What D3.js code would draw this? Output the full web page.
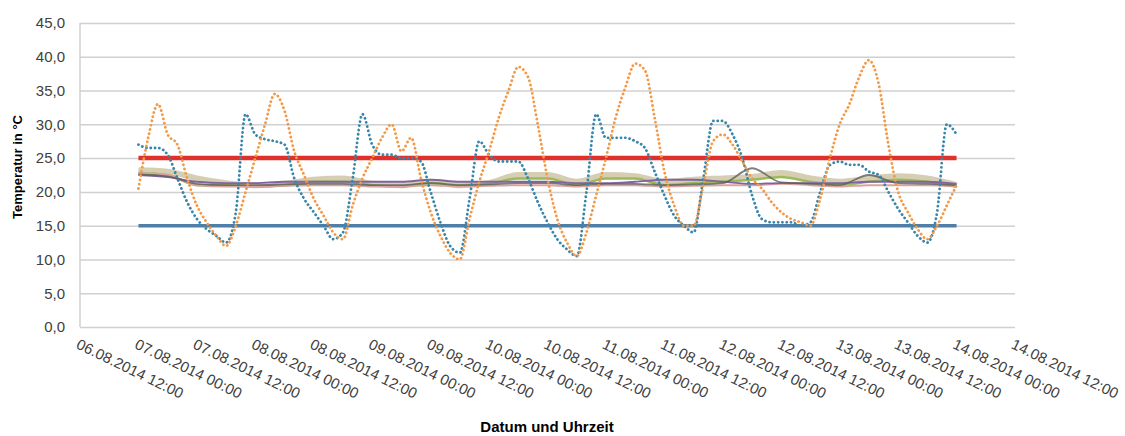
<!DOCTYPE html>
<html>
<head>
<meta charset="utf-8">
<script src="https://cdn.jsdelivr.net/npm/d3@7"></script>
<style>
  body { margin: 0; background: #fff; }
  svg { display: block; font-family: "Liberation Sans", Arial, sans-serif; }
  .tick text { fill: #404040; }
</style>
</head>
<body>
<div id="chart"></div>
<script>
// x axis labels (every 12 h)
const tickLabels = [
  "06.08.2014 12:00", "07.08.2014 00:00", "07.08.2014 12:00", "08.08.2014 00:00",
  "08.08.2014 12:00", "09.08.2014 00:00", "09.08.2014 12:00", "10.08.2014 00:00",
  "10.08.2014 12:00", "11.08.2014 00:00", "11.08.2014 12:00", "12.08.2014 00:00",
  "12.08.2014 12:00", "13.08.2014 00:00", "13.08.2014 12:00", "14.08.2014 00:00",
  "14.08.2014 12:00"
];
const yTicks = [0, 5, 10, 15, 20, 25, 30, 35, 40, 45];

// measurement start, sampling in hours
const startTime = "07.08.2014 00:00";
const stepDotted = 2;
const stepSolid = 6;

// dotted sensors (2 h samples)
const tealValues = [
  27, 26.5, 26.5, 25.5, 22, 18.5, 16, 14.5, 13.5, 12.5, 17, 31.5, 28.5, 27.8, 27.5, 27,
  22, 19, 17, 15, 13, 14, 22, 31.5, 27, 25.5, 25.5, 25, 25, 24.5, 20, 15.5, 12, 11,
  19, 27.5, 25.5, 24.5, 24.5, 24.5, 22, 18.5, 15.5, 13, 11.5, 10.5, 20, 31.5, 28, 28,
  28, 27.5, 26.5, 23, 19.5, 16.5, 15, 14, 22, 30.5, 30.5, 28.5, 25, 19.5, 16, 15.5,
  15.5, 15.5, 15, 15.5, 20, 24, 24.5, 24, 24, 23, 22.5, 20, 17.5, 15.5, 13.5, 12.5,
  17, 30, 28.5
];
const orangeValues = [
  20.5, 28, 33, 28.5, 27, 22, 18, 15.5, 13.5, 12, 15, 20, 25, 30, 34.5, 32, 26,
  22.5, 19, 16.5, 14, 13, 18, 22, 25, 28, 30, 26, 28, 22, 17, 13.5, 11, 10, 16, 21.5,
  26, 31, 35, 38.5, 37, 30, 22, 16, 12.5, 10.5, 14, 19.5, 25, 31, 35.5, 39, 38, 31,
  23, 18, 15, 15, 21, 27.5, 28.5, 27, 24.5, 22, 20.5, 18.5, 17, 16, 15.5, 15, 19,
  25, 30, 33, 37, 39.5, 36, 27, 20, 17, 14.5, 13, 15, 18, 21
];

// indoor sensors (6 h samples)
const beigeValues = [
  23.2, 23, 22, 21.3, 21, 21.2, 21.8, 22, 21.2, 21, 21.5, 21, 21.3, 22.5, 22.5,
  21.5, 22.5, 22.3, 21.5, 21.8, 22, 22.2, 22.8, 22, 21.5, 22, 22.3, 22, 21
];
const greenValues = [
  22.8, 22.5, 21, 21, 20.8, 21, 21.5, 21.5, 21, 20.8, 21.3, 21, 21.2, 22, 22,
  21, 22, 22, 21, 21.3, 21.5, 21.8, 22.2, 21.5, 21, 21.5, 21.8, 21.5, 20.8
];
const purpleValues = [
  22.5, 22.2, 21.5, 21.3, 21.3, 21.5, 21.5, 21.5, 21.5, 21.5, 21.8, 21.5, 21.5, 21.5, 21.5,
  21.3, 21.3, 21.5, 21.8, 21.8, 21.5, 21.2, 21.3, 21.3, 21.3, 21.5, 21.5, 21.5, 21.2
];
const pinkValues = [
  22.8, 22.5, 21, 20.8, 20.8, 20.9, 21, 21, 20.8, 20.8, 21, 20.8, 20.9, 21, 21,
  20.8, 21, 21, 20.8, 20.9, 21, 21, 21.2, 21, 20.8, 21, 21, 21, 20.8
];
const greyValues = [
  22.6, 22.3, 21.2, 21, 21, 21.1, 21.2, 21.2, 21, 21, 21.3, 21, 21.1, 21.3, 21.3,
  21, 21.2, 21.2, 21, 21.1, 21.3, 23.5, 21.4, 21.2, 21, 22.5, 21.3, 21.2, 21
];

// limit lines
const upperLimit = [25, 25];
const lowerLimit = [15, 15];

const W = 1125, H = 436;
const margin = { left: 80, right: 110, top: 23, bottom: 109 };
const iw = W - margin.left - margin.right;
const ih = H - margin.top - margin.bottom;

const parse = d3.timeParse("%d.%m.%Y %H:%M");
const fmt = d3.timeFormat("%d.%m.%Y %H:%M");
const t0 = parse(startTime);
const tickDates = tickLabels.map(parse);
const timesFor = (n, step) => d3.range(n).map(i => d3.timeHour.offset(t0, i * step));

const x = d3.scaleTime()
  .domain([tickDates[0], tickDates[tickDates.length - 1]])
  .range([0, iw]);
const y = d3.scaleLinear().domain([0, 45]).range([ih, 0]);

const svg = d3.select("#chart").append("svg")
  .attr("width", W).attr("height", H);
const g = svg.append("g").attr("transform", `translate(${margin.left},${margin.top})`);

// gridlines + y labels
const yAxis = g.append("g")
  .call(d3.axisLeft(y).tickValues(yTicks).tickSize(-iw).tickPadding(15)
    .tickFormat(d => d.toFixed(1).replace(".", ",")));
yAxis.select(".domain").remove();
yAxis.selectAll(".tick line").attr("stroke", "#d0d0d0").attr("stroke-width", 1.5);
yAxis.selectAll(".tick text").attr("font-size", 15);

g.append("line").attr("x1", 0).attr("x2", 0).attr("y1", 0).attr("y2", ih)
  .attr("stroke", "#d0d0d0").attr("stroke-width", 1.5);

// x labels
const xAxis = g.append("g").attr("transform", `translate(0,${ih})`)
  .call(d3.axisBottom(x).tickValues(tickDates).tickSize(0).tickFormat(fmt));
xAxis.select(".domain").remove();
xAxis.selectAll(".tick text")
  .attr("font-size", 15)
  .attr("text-anchor", "start")
  .attr("transform", "translate(0,10) rotate(26)")
  .attr("y", 0).attr("dy", "0.8em");

const line = vals => d3.line()
  .x((d, i) => x(vals.times[i]))
  .y(d => y(d))
  .curve(d3.curveMonotoneX);

function drawSeries(values, step, style) {
  const times = values.length === 2
    ? [t0, d3.timeHour.offset(t0, 168)]
    : timesFor(values.length, step);
  const p = g.append("path")
    .datum(values)
    .attr("fill", "none")
    .attr("stroke", style.color)
    .attr("stroke-width", style.width)
    .attr("stroke-linecap", style.cap || "butt")
    .attr("stroke-opacity", style.opacity || 1)
    .attr("d", line({ times })(values));
  if (style.dash) p.attr("stroke-dasharray", style.dash);
}

// limits
drawSeries(upperLimit, 0, { color: "#e0302c", width: 4.5 });
drawSeries(lowerLimit, 0, { color: "#4f7fa8", width: 3.5 });

// indoor sensors
drawSeries(beigeValues, stepSolid, { color: "#d2c9ab", width: 6, opacity: 0.9 });
drawSeries(greenValues, stepSolid, { color: "#9bbb59", width: 2.5 });
drawSeries(pinkValues, stepSolid, { color: "#dba3a0", width: 2 });
drawSeries(purpleValues, stepSolid, { color: "#8064a2", width: 1.8 });
drawSeries(greyValues, stepSolid, { color: "#5e5e5e", width: 1.8, opacity: 0.8 });

// outdoor sensors (dotted)
drawSeries(tealValues, stepDotted, { color: "#3887ab", width: 2.8, dash: "0.1 4.2", cap: "round" });
drawSeries(orangeValues, stepDotted, { color: "#f39a48", width: 2.8, dash: "0.1 4.2", cap: "round" });

// axis titles
svg.append("text")
  .attr("transform", `translate(22,${margin.top + ih / 2 - 8}) rotate(-90)`)
  .attr("text-anchor", "middle")
  .attr("font-size", 13).attr("font-weight", "bold").attr("fill", "#000")
  .text("Temperatur in °C");

svg.append("text")
  .attr("x", 547).attr("y", 432)
  .attr("text-anchor", "middle")
  .attr("font-size", 15).attr("font-weight", "bold").attr("fill", "#000")
  .text("Datum und Uhrzeit");
</script>
</body>
</html>
